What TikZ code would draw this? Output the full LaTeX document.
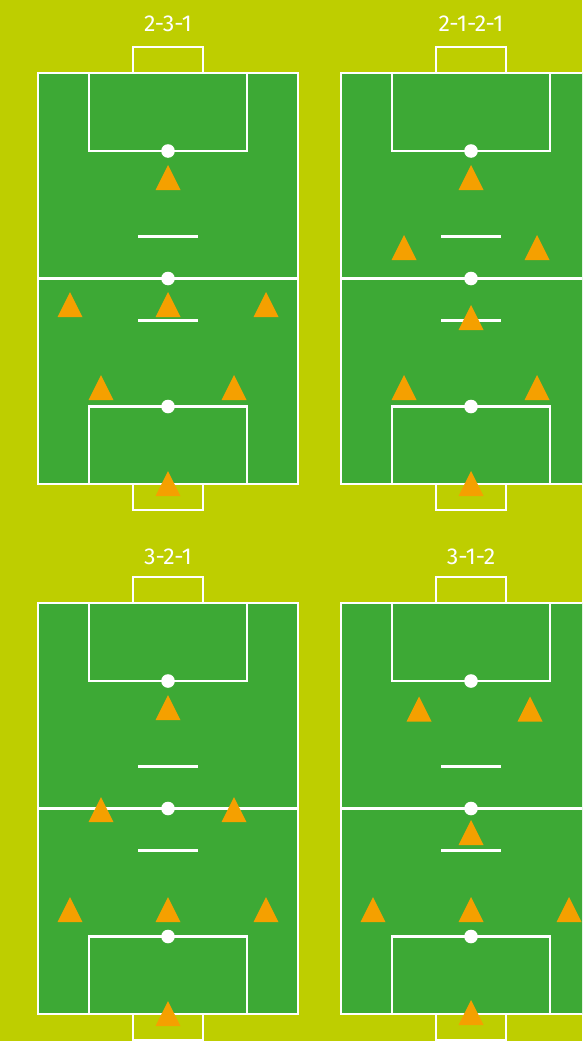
\documentclass[tikz,border=0pt]{standalone}
\usepackage{fontspec}
\setsansfont{Fira Sans}
\usetikzlibrary{positioning}
\definecolor{FieldLime}{HTML}{BECE00}
\definecolor{PitchGreen}{HTML}{3DA935}
\definecolor{ConeOrange}{HTML}{F5A000}

% one pitch, drawn round its centre spot
\newcommand{\pitchlines}{%
  \fill[PitchGreen] (-130,-205.5) rectangle (130,205.5);
  \draw[markline] (-130,-205.5) rectangle (130,205.5);
  \draw[markline] (-35,-205.5) rectangle (35,-231.5);
  \draw[markline] (-35,205.5) rectangle (35,231.5);
  \draw[markline] (-79,-205.5) rectangle (79,-127.5);
  \draw[markline] (-79,205.5) rectangle (79,128);
  \draw[markline] (-130,0) -- (130,0);
  \draw[markline] (-30,-42) -- (30,-42);
  \draw[markline] (-30,42) -- (30,42);
  \fill[white] (0,-127.5) circle[radius=6.8pt];
  \fill[white] (0,0) circle[radius=6.8pt];
  \fill[white] (0,128) circle[radius=6.8pt];
}

\begin{document}
\begin{tikzpicture}[x=1pt,y=-1pt,
  markline/.style={draw=white,line width=2.8pt},
  cone/.style={fill=ConeOrange},
  title/.style={text=white,font=\sffamily\fontsize{23}{27}\selectfont,inner sep=0pt}
]
\fill[FieldLime] (0,0) rectangle (582,1041);
\useasboundingbox (0,0) rectangle (582,1041);
\clip (0,0) rectangle (582,1041);

\node[title] (t231) at (168,24) {2-3-1};
\node[title] (t2121) at (471,24) {2-1-2-1};
\node[title] (t321) at (168,557) {3-2-1};
\node[title] (t312) at (471,557) {3-1-2};

% 2-3-1
\begin{scope}[shift={(168,278.5)}]
  \pitchlines
  \foreach \px/\py in {0/-88.5,-98/38.5,0/38.5,98/38.5,-67/121.5,66/121.5,0/217.5}
    \fill[cone] (\px-12.5,\py) -- (\px+12.5,\py) -- (\px,\py-25) -- cycle;
\end{scope}

% 2-1-2-1
\begin{scope}[shift={(471,278.5)}]
  \pitchlines
  \foreach \px/\py in {0/-88.5,-67/-18.5,66/-18.5,0/51.5,-67/121.5,66/121.5,0/217.5}
    \fill[cone] (\px-12.5,\py) -- (\px+12.5,\py) -- (\px,\py-25) -- cycle;
\end{scope}

% 3-2-1
\begin{scope}[shift={(168,808.5)}]
  \pitchlines
  \foreach \px/\py in {0/-88.5,-67/13.5,66/13.5,-98/113.5,0/113.5,98/113.5,0/217.5}
    \fill[cone] (\px-12.5,\py) -- (\px+12.5,\py) -- (\px,\py-25) -- cycle;
\end{scope}

% 3-1-2
\begin{scope}[shift={(471,808.5)}]
  \pitchlines
  \foreach \px/\py in {-52/-87,59/-87,0/36.5,-98/113.5,0/113.5,98/113.5,0/216.5}
    \fill[cone] (\px-12.5,\py) -- (\px+12.5,\py) -- (\px,\py-25) -- cycle;
\end{scope}
\end{tikzpicture}
\end{document}
